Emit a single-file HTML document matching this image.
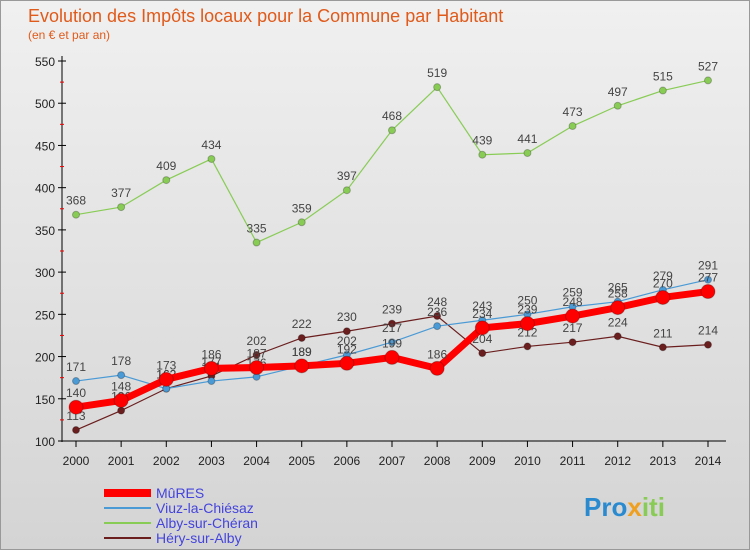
<!DOCTYPE html>
<html><head><meta charset="utf-8"><style>
body{margin:0}
#c{width:750px;height:550px;position:relative;font-family:"Liberation Sans",sans-serif;background:linear-gradient(#f0f0f0,#d4d4d4);box-sizing:border-box;border:1px solid #999;overflow:hidden}
</style></head><body>
<div id="c">
<svg id="s" width="750" height="550"></svg>
</div>
<script>
const years=["2000","2001","2002","2003","2004","2005","2006","2007","2008","2009","2010","2011","2012","2013","2014"];
const mures=[140,148,173,186,187,189,192,199,186,234,239,248,258,270,277];
const viuz=[171,178,162,171,176,189,202,217,236,243,250,259,265,279,291];
const alby=[368,377,409,434,335,359,397,468,519,439,441,473,497,515,527];
const hery=[113,136,162,177,202,222,230,239,248,204,212,217,224,211,214];
const yTicks=[100,150,200,250,300,350,400,450,500,550];
const NS="http://www.w3.org/2000/svg";
const s=document.getElementById('s');
const X=i=>75+i*(707-75)/14;
const Y=v=>440-(v-100)*(380/450);
function el(t,a,p){const e=document.createElementNS(NS,t);for(const k in a)e.setAttribute(k,a[k]);(p||s).appendChild(e);return e;}
function txt(x,y,str,a,p){const e=el('text',Object.assign({x:x,y:y},a),p);e.textContent=str;return e;}
let t=txt(27,21,"Evolution des Impôts locaux pour la Commune par Habitant",{'font-size':18,fill:'#e05a1a'});

t=txt(27,38,"(en € et par an)",{'font-size':12,fill:'#e05a1a'});

let ax=el('line',{x1:61,y1:55,x2:61,y2:441,stroke:'#000'});

ax=el('line',{x1:61,y1:440,x2:725,y2:440,stroke:'#000'});

yTicks.forEach((v,i)=>{
 el('line',{x1:57,y1:Y(v),x2:65,y2:Y(v),stroke:'#000'});
 const l=txt(54,Y(v)+5,String(v),{'font-size':12,fill:'#222','text-anchor':'end'});
 
 if(i<yTicks.length-1){for(let k=1;k<=4;k++){if(k==2)continue;} el('line',{x1:59,y1:Y(v+25),x2:63,y2:Y(v+25),stroke:'#e00'});}
});
years.forEach((y,i)=>{
 el('line',{x1:X(i),y1:440,x2:X(i),y2:446,stroke:'#000'});
 const l=txt(X(i),464,y,{'font-size':12,fill:'#222','text-anchor':'middle'});
 
});
function series(data,color,w,r,name,lab){
 const g=el('g',{});
 el('polyline',{points:data.map((v,i)=>X(i)+','+Y(v)).join(' '),fill:'none',stroke:color,'stroke-width':w},g);
 data.forEach((v,i)=>{
  const c=el('circle',{cx:X(i),cy:Y(v),r:r,fill:color,stroke:'rgba(0,0,0,0.25)'},g);
  
  if(lab){const l=txt(X(i),Y(v)-10,String(v),{'font-size':12,fill:'#444','text-anchor':'middle'},g);
  }
 });
}
series(alby,'#88cc55',1.2,3.5,'series-alby',true);
series(hery,'#6b1e1e',1.2,3.5,'series-hery',true);
series(viuz,'#4a9ad6',1.2,3.5,'series-viuz',true);
series(mures,'#ff0000',7,7,'series-mures',true);
const leg=[["MûRES","#ff0000",8],["Viuz-la-Chiésaz","#4a9ad6",2],["Alby-sur-Chéran","#88cc55",2],["Héry-sur-Alby","#6b1e1e",2]];
leg.forEach((e,i)=>{
 const g=el('g',{});
 el('line',{x1:103,y1:492+i*15,x2:150,y2:492+i*15,stroke:e[1],'stroke-width':e[2]},g);
 txt(155,497+i*15,e[0],{'font-size':14,fill:'#4444dd'},g);
});
const lg=txt(583,515,"",{'font-size':26,'font-weight':'bold'});

[["Pro","#2a8ad0"],["x","#f0a020"],["iti","#88cc55"]].forEach(p=>{const ts=el('tspan',{fill:p[1]},lg);ts.textContent=p[0];});
</script>
</body></html>
